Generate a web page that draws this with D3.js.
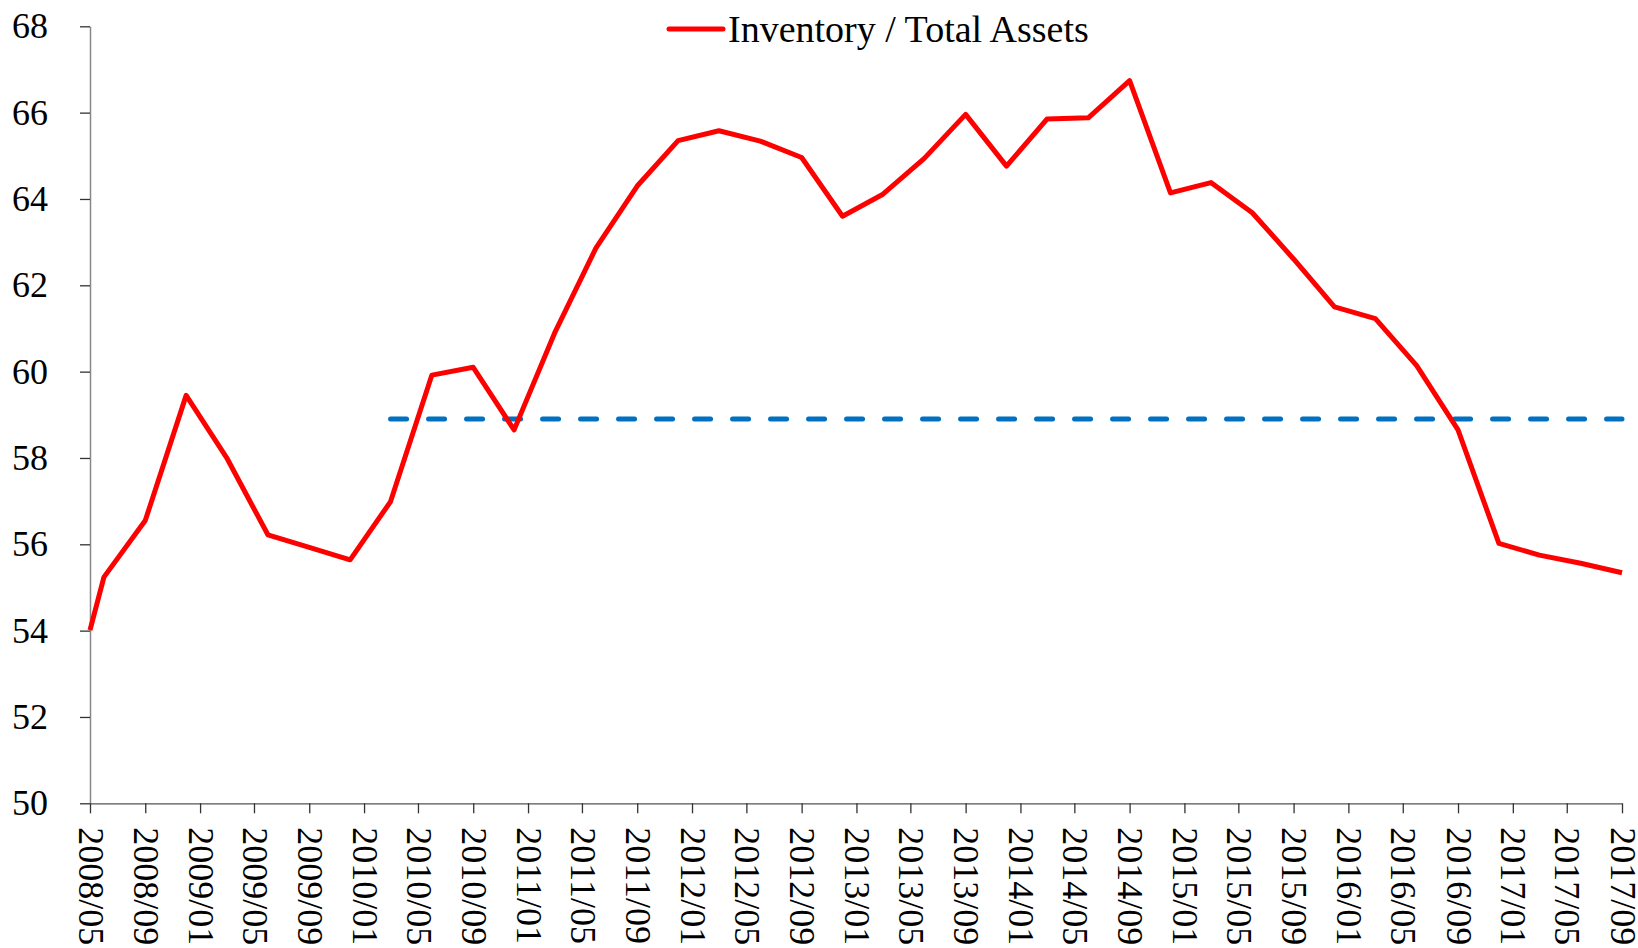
<!DOCTYPE html>
<html>
<head>
    <style>
        body { margin: 0; background: #fff; }
        svg text { font-family: "Liberation Serif", "Times New Roman", serif; fill: #000; }
    </style>
</head>
<body>
    <svg id="chart" width="1638" height="948"></svg>

    <script src="https://d3js.org/d3.v7.min.js"></script>
    <script>
        // quarterly readings (first point is 2008/05)
        const dates = ['2008/05', '2008/06', '2008/09', '2008/12', '2009/03', '2009/06', '2009/09', '2009/12',
            '2010/03', '2010/06', '2010/09', '2010/12', '2011/03', '2011/06', '2011/09', '2011/12',
            '2012/03', '2012/06', '2012/09', '2012/12', '2013/03', '2013/06', '2013/09', '2013/12',
            '2014/03', '2014/06', '2014/09', '2014/12', '2015/03', '2015/06', '2015/09', '2015/12',
            '2016/03', '2016/06', '2016/09', '2016/12', '2017/03', '2017/06', '2017/09'];
        const ratio = [54.01, 55.24, 56.55, 59.45, 58.01, 56.22, 55.93, 55.64,
            56.99, 59.92, 60.1, 58.65, 60.89, 62.86, 64.3, 65.35,
            65.58, 65.34, 64.96, 63.6, 64.11, 64.94, 65.96, 64.76,
            65.85, 65.88, 66.74, 64.14, 64.38, 63.68, 62.61, 61.5,
            61.23, 60.14, 58.65, 56.02, 55.75, 55.56, 55.34];

        // horizontal reference line
        const refStart = '2010/03', refEnd = '2017/09', refValue = 58.9;

        const xTickLabels = ['2008/05', '2008/09', '2009/01', '2009/05', '2009/09', '2010/01', '2010/05', '2010/09',
            '2011/01', '2011/05', '2011/09', '2012/01', '2012/05', '2012/09', '2013/01', '2013/05',
            '2013/09', '2014/01', '2014/05', '2014/09', '2015/01', '2015/05', '2015/09', '2016/01',
            '2016/05', '2016/09', '2017/01', '2017/05', '2017/09'];
        const yTicks = [50, 52, 54, 56, 58, 60, 62, 64, 66, 68];
        const seriesName = 'Inventory / Total Assets';

        const parse = d3.timeParse('%Y/%m');
        const fmt = d3.timeFormat('%Y/%m');

        const svg = d3.select('#chart'),
            margin = { top: 26.3, right: 16, bottom: 144.7, left: 90 },
            width = +svg.attr('width') - margin.left - margin.right,
            height = +svg.attr('height') - margin.top - margin.bottom;

        const x = d3.scaleTime()
            .domain([parse(xTickLabels[0]), parse(xTickLabels[xTickLabels.length - 1])])
            .range([0, width]);
        const y = d3.scaleLinear().domain([50, 68]).range([height, 0]);

        const g = svg.append('g').attr('transform', `translate(${margin.left},${margin.top})`);

        // y axis
        const yAxis = g.append('g')
            .call(d3.axisLeft(y).tickValues(yTicks).tickSize(10).tickSizeOuter(0).tickPadding(32));
        yAxis.select('.domain').attr('stroke', '#888').attr('stroke-width', 1.5);
        yAxis.selectAll('.tick line').attr('stroke', '#333').attr('stroke-width', 1.3);
        yAxis.selectAll('.tick text').style('font-size', '36px').attr('font-family', null);

        // x axis
        const xAxis = g.append('g')
            .attr('transform', `translate(0,${height})`)
            .call(d3.axisBottom(x).tickValues(xTickLabels.map(parse)).tickFormat(fmt).tickSize(10).tickSizeOuter(0));
        xAxis.select('.domain').attr('stroke', '#555').attr('stroke-width', 1.3);
        xAxis.selectAll('.tick line').attr('stroke', '#333').attr('stroke-width', 1.3);
        xAxis.selectAll('.tick text')
            .style('font-size', '36px')
            .attr('font-family', null)
            .attr('text-anchor', 'start')
            .attr('x', 0)
            .attr('y', 0)
            .attr('dy', '0.33em')
            .attr('transform', 'translate(0,24) rotate(90)');

        // reference dashed line
        g.append('line')
            .attr('x1', x(parse(refStart)))
            .attr('x2', x(parse(refEnd)))
            .attr('y1', y(refValue))
            .attr('y2', y(refValue))
            .attr('stroke', '#0070C0')
            .attr('stroke-width', 5)
            .attr('stroke-linecap', 'round')
            .attr('stroke-dasharray', '16,22');

        // series
        const line = d3.line()
            .x((d, i) => x(parse(dates[i])))
            .y(d => y(d));

        g.append('path')
            .datum(ratio)
            .attr('fill', 'none')
            .attr('stroke', '#FF0000')
            .attr('stroke-width', 5)
            .attr('stroke-linejoin', 'round')
            .attr('d', line);

        // legend
        const legend = svg.append('g').attr('transform', 'translate(669,29)');
        legend.append('line')
            .attr('x1', 0).attr('x2', 54)
            .attr('stroke', '#FF0000').attr('stroke-width', 5).attr('stroke-linecap', 'round');
        legend.append('text')
            .attr('x', 59).attr('y', 13)
            .style('font-size', '38px')
            .text(seriesName);
    </script>
</body>
</html>
